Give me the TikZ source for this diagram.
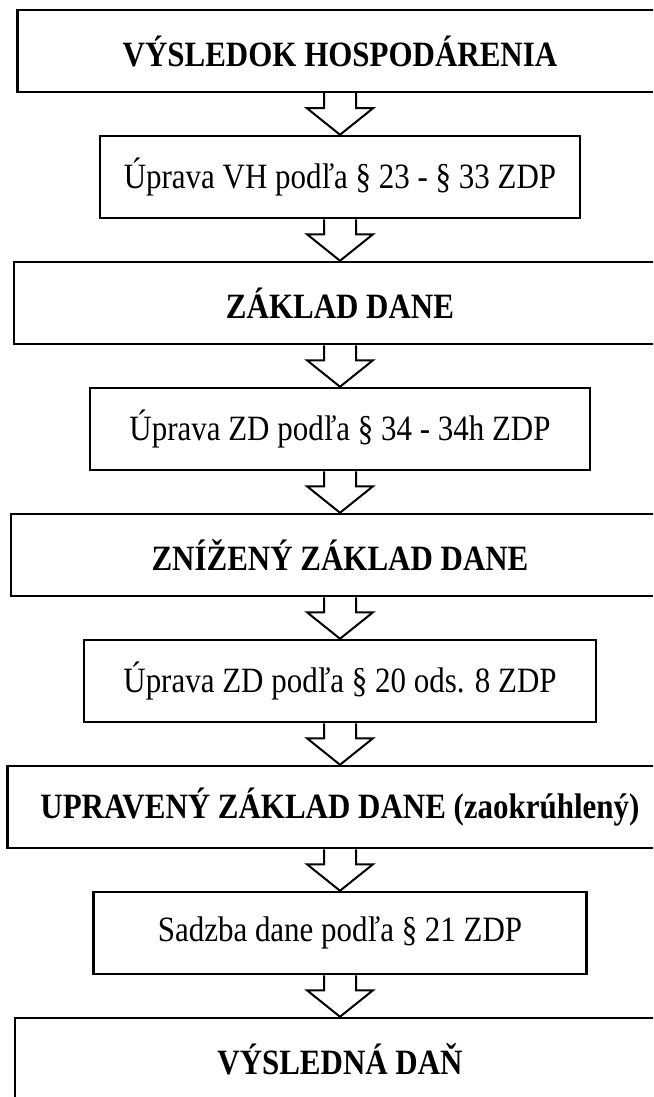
\documentclass[tikz,border=0pt]{standalone}
\usepackage{fontspec}
\setmainfont{Liberation Serif}
\newfontfamily\boxfont[FakeStretch=0.87]{Liberation Serif}
\usetikzlibrary{calc}

\newcommand{\flowarrow}[2]{%
	\draw[flow] ($(#1.south)+(-16,0)$) -- ++(0,15) -- ++(-17,0) -- (#2.north)
		-- ($(#1.south)+(33,15)$) -- ++(-17,0) -- ++(0,-15);}

\begin{document}
\begin{tikzpicture}[x=1pt,y=-1pt,line width=2.5pt,
	wide/.style={draw, rectangle, inner sep=0pt, minimum height=82pt, font=\boxfont\fontsize{35.6}{40}\selectfont\bfseries},
	narrow/.style={draw, rectangle, inner sep=0pt, minimum height=82pt, font=\boxfont\fontsize{35.6}{40}\selectfont},
	flow/.style={line width=2pt, line join=miter}]
	\clip (0,0) rectangle (653,1097);
	\node (VH)  at (340,  51)	[wide, minimum width=645pt]	{VÝSLEDOK HOSPODÁRENIA};
	\node (U1)  at (340, 177)	[narrow, minimum width=480pt]	{Úprava VH podľa § 23 - § 33 ZDP};
	\node (ZD)  at (340, 303)	[wide, minimum width=652pt]	{ZÁKLAD DANE};
	\node (U2)  at (340, 429)	[narrow, minimum width=500pt]	{Úprava ZD podľa § 34 - 34h ZDP};
	\node (ZZD) at (340, 555)	[wide, minimum width=658pt]	{ZNÍŽENÝ ZÁKLAD DANE};
	\node (U3)  at (340, 681)	[narrow, minimum width=512pt]	{Úprava ZD podľa § 20 ods. 8 ZDP};
	\node (UZD) at (340, 807)	[wide, minimum width=665pt]	{UPRAVENÝ ZÁKLAD DANE (zaokrúhlený)};
	\node (SD)  at (340, 933)	[narrow, minimum width=493pt]	{Sadzba dane podľa § 21 ZDP};
	\node (VD)  at (340,1059)	[wide, minimum width=650pt]	{VÝSLEDNÁ DAŇ};
	\flowarrow{VH}{U1}
	\flowarrow{U1}{ZD}
	\flowarrow{ZD}{U2}
	\flowarrow{U2}{ZZD}
	\flowarrow{ZZD}{U3}
	\flowarrow{U3}{UZD}
	\flowarrow{UZD}{SD}
	\flowarrow{SD}{VD}
\end{tikzpicture}
\end{document}
